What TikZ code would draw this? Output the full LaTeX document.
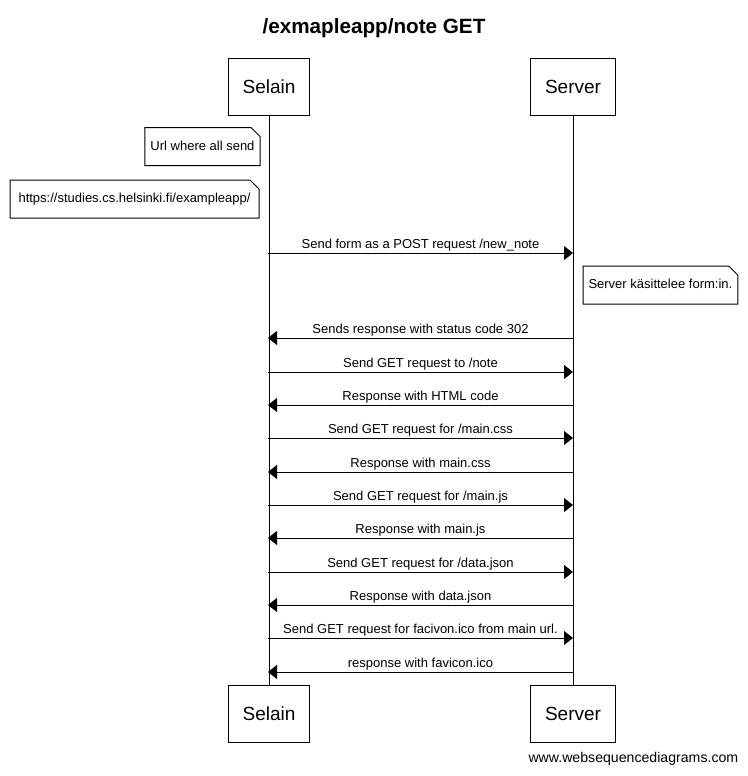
\documentclass[tikz,border=0pt]{standalone}
\usepackage{fontspec}
\setmainfont{Liberation Sans}
\usetikzlibrary{arrows.meta}
\tikzset{
	actor/.style={draw,fill=white,inner xsep=10.9pt,minimum height=42.75pt,font=\fontsize{14.25}{16}\selectfont},
	notebox/.style={inner xsep=3.75pt,minimum height=27.75pt,text height=7pt,text depth=1.5pt,font=\fontsize{9.75}{11}\selectfont},
	msglabel/.style={anchor=base,yshift=3.75pt,inner sep=0pt,font=\fontsize{9.75}{11}\selectfont}
}
\begin{document}
\begin{tikzpicture}[x=0.75pt,y=-0.75pt,line width=0.75pt,>={Triangle[length=6.75pt,width=10.5pt]}]
	\useasboundingbox (0,0) rectangle (748,776);
	\node[anchor=base,font=\bfseries\fontsize{15.5}{18}\selectfont] (title) at (374,33) {/exmapleapp/note GET};
	\node[actor] (selain) at (269,86.5) {Selain};
	\node[actor] (server) at (573,86.5) {Server};
	\node[actor] (selainb) at (269,713.5) {Selain};
	\node[actor] (serverb) at (573,713.5) {Server};
	\draw (selain)--(selainb) (server)--(serverb);
	\node[notebox,anchor=east] (url) at (260,146.5) {Url where all send};
	\node[notebox,anchor=east,minimum width=186pt] (addr) at (259,199) {https://studies.cs.helsinki.fi/exampleapp/};
	\node[notebox,anchor=west] (proc) at (583,285) {Server käsittelee form:in.};
	\foreach \n in {url,addr,proc}
		\draw (\n.south west)--(\n.north west)--([xshift=-6.75pt]\n.north east)--([yshift=-6.75pt]\n.north east)--(\n.south east)--cycle;
	\foreach \y/\a/\b/\t [count=\i] in {253/sel/srv/{Send form as a POST request /new\_note},338/srv/sel/{Sends response with status code 302},372/sel/srv/{Send GET request to /note},405/srv/sel/{Response with HTML code},438/sel/srv/{Send GET request for /main.css},472/srv/sel/{Response with main.css},505/sel/srv/{Send GET request for /main.js},538/srv/sel/{Response with main.js},572/sel/srv/{Send GET request for /data.json},605/srv/sel/{Response with data.json},638/sel/srv/{Send GET request for facivon.ico from main url.},672/srv/sel/{response with favicon.ico}}{
		\coordinate (sel\i) at (268,\y);
		\coordinate (srv\i) at (573,\y);
		\draw[->] (\a\i)--node[msglabel]{\t}(\b\i);
	}
	\node[anchor=base west,inner sep=0pt,font=\fontsize{10.6}{12}\selectfont] (credit) at (528,762) {www.websequencediagrams.com};
\end{tikzpicture}
\end{document}
